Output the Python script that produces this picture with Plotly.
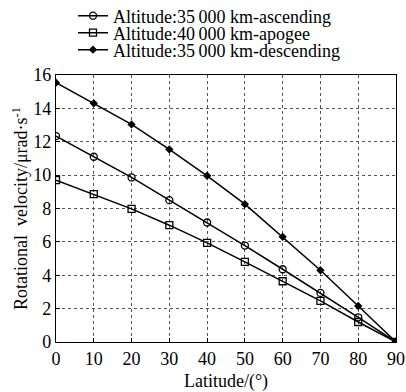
import plotly.graph_objects as go

latitude = [0, 10, 20, 30, 40, 50, 60, 70, 80, 90]
ascending_35000 = [12.34, 11.1, 9.86, 8.5, 7.16, 5.78, 4.36, 2.94, 1.48, 0.0]
apogee_40000 = [9.7, 8.86, 7.98, 7.0, 5.94, 4.8, 3.64, 2.46, 1.2, 0.0]
descending_35000 = [15.54, 14.3, 13.04, 11.54, 9.96, 8.26, 6.3, 4.3, 2.16, 0.0]

names = ["Altitude:35\u2009000 km-ascending", "Altitude:40\u2009000 km-apogee", "Altitude:35\u2009000 km-descending"]
series = [ascending_35000, apogee_40000, descending_35000]
symbols = ["circle-open", "square-open", "diamond"]
sizes = [7, 7, 5]
legend_ids = ["legend", "legend2", "legend3"]

font = dict(family="Liberation Serif, Times New Roman, serif", size=18, color="black")

fig = go.Figure()
for name, ys, sym, sz, lg in zip(names, series, symbols, sizes, legend_ids):
    fig.add_trace(go.Scatter(
        x=latitude, y=ys, name=name, mode="lines+markers", legend=lg,
        line=dict(color="black", width=1.5),
        marker=dict(symbol=sym, size=sz, color="black", line=dict(color="black", width=1.3)),
    ))

axis_common = dict(
    showline=True, linecolor="black", linewidth=1.2, mirror=True,
    showgrid=True, gridcolor="#555555", griddash="3px,3px", gridwidth=1,
    ticks="inside", ticklen=4, tickcolor="black", zeroline=False,
    tickfont=font, automargin=True,
)

plot_top, plot_h = 75, 267
def leg(ypix):
    return dict(x=0.05, y=1 + (plot_top - ypix) / plot_h, xanchor="left", yanchor="middle",
                bgcolor="rgba(0,0,0,0)", font=font, itemwidth=30)

fig.update_layout(
    width=406, height=392,
    margin=dict(l=56, r=10, t=75, b=50, autoexpand=False),
    paper_bgcolor="white", plot_bgcolor="white",
    font=font,
    showlegend=True,
    legend=leg(16), legend2=leg(33), legend3=leg(50),
    xaxis=dict(range=[0, 90], tickvals=latitude, title=dict(text="Latitude/(\u00b0)", font=font, standoff=6), **axis_common),
    yaxis=dict(range=[0, 16], tickvals=[0, 2, 4, 6, 8, 10, 12, 14, 16],
               title=dict(text="Rotational  velocity/\u03bcrad\u00b7s<sup>-1</sup>", font=font, standoff=0), **axis_common),
)

fig.write_html("out.html", config={"displayModeBar": False},
               post_script="document.body.style.margin='0px';")
